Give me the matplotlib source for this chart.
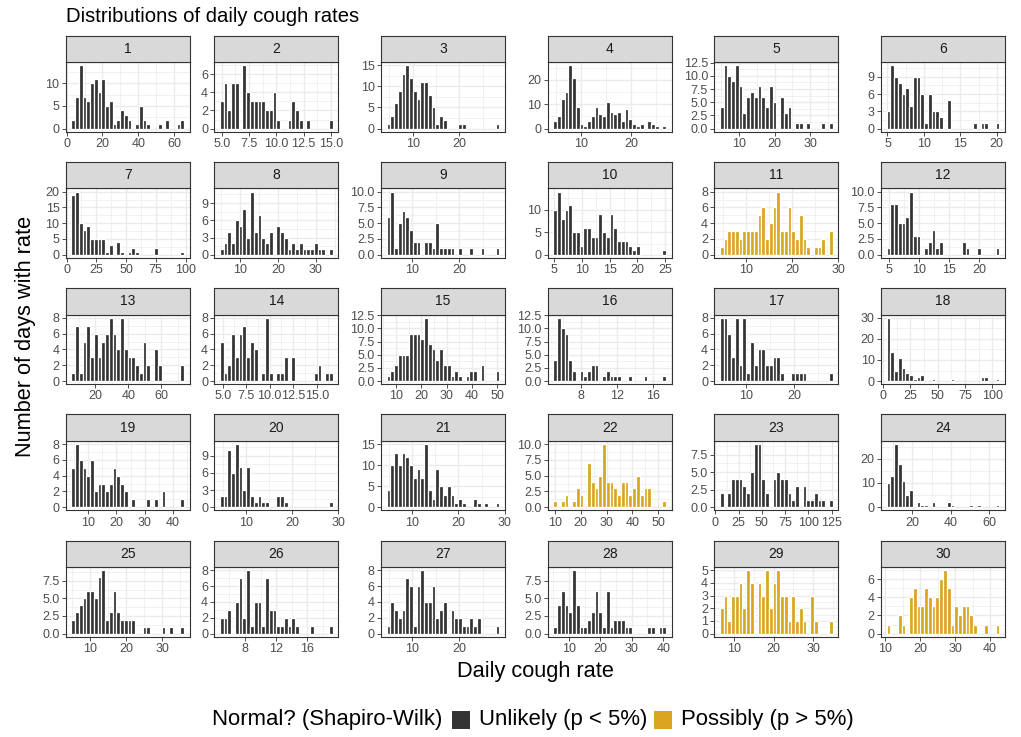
import matplotlib
matplotlib.use("Agg")
import matplotlib.pyplot as plt
import numpy as np
from matplotlib.patches import Rectangle

plt.rcParams['font.family'] = ['Liberation Sans', 'DejaVu Sans']

# --- data: 30 histogram bins per participant ---
participants = list(range(1, 31))
normal_possible = [11, 22, 29, 30]   # Shapiro-Wilk p > 5%

# centre of the first and last bin of each histogram
bin_first = [3.7, 5.0, 4.8, 4.93, 5.16, 5.14, 5.6, 5.1, 4.9, 5.24,
             4.75, 4.95, 6.8, 4.9, 7.0, 5.14, 4.97, 5.2, 4.7, 4.66,
             4.9, 10.1, 7.1, 7.5, 5.3, 5.03, 4.87, 5.7, 7.0, 11.0]
bin_last = [64.4, 15.0, 28.2, 26.6, 35.8, 20.1, 97.2, 34.0, 28.2, 24.8,
            28.4, 23.0, 72.6, 16.5, 50.1, 17.25, 27.6, 104.8, 43.3, 28.4,
            28.45, 52.3, 124.0, 64.3, 35.5, 19.0, 28.2, 40.3, 34.4, 42.1]

counts_01 = [2, 7, 14, 7, 6, 10, 11, 8, 11, 5, 6, 1, 2, 4, 3, 2, 0, 1, 5, 2, 1, 0, 0, 1, 0, 2, 0, 0, 1, 2]
counts_02 = [3, 5, 2, 5, 5, 0, 7, 4, 3, 3, 3, 3, 2, 2, 4, 1, 0, 0, 1, 3, 2, 1, 0, 1, 0, 0, 0, 0, 0, 1]
counts_03 = [1, 3, 6, 9, 13, 15, 12, 9, 7, 11, 11, 8, 5, 1, 3, 2, 0, 0, 0, 1, 1, 0, 0, 0, 0, 0, 0, 0, 0, 1]
counts_04 = [3, 5, 12, 15, 26, 21, 9, 2, 1, 3, 5, 9, 6, 5, 11, 7, 6, 7, 3, 8, 4, 2, 1, 2, 0, 3, 2, 1, 0, 1]
counts_05 = [4, 12, 10, 9, 12, 8, 3, 6, 7, 6, 8, 6, 4, 8, 5, 0, 6, 3, 4, 0, 1, 1, 0, 1, 0, 0, 0, 1, 0, 1]
counts_06 = [3, 11, 9, 8, 6, 7, 4, 9, 9, 6, 1, 6, 3, 3, 2, 0, 5, 0, 0, 0, 0, 0, 0, 1, 0, 1, 1, 0, 0, 1]
counts_07 = [19, 20, 10, 8, 9, 5, 5, 5, 5, 1, 3, 0, 4, 1, 0, 1, 2, 1, 0, 0, 0, 0, 2, 0, 0, 0, 0, 0, 0, 1]
counts_08 = [1, 2, 4, 2, 6, 5, 8, 3, 11, 4, 7, 3, 2, 4, 0, 5, 4, 3, 1, 2, 1, 2, 1, 1, 1, 2, 1, 1, 0, 1]
counts_09 = [6, 10, 1, 5, 7, 6, 4, 2, 2, 0, 2, 2, 1, 5, 1, 1, 1, 1, 0, 1, 0, 0, 1, 0, 0, 1, 0, 0, 0, 1]
counts_10 = [10, 14, 8, 10, 11, 5, 5, 2, 6, 6, 4, 4, 9, 5, 4, 9, 6, 3, 3, 3, 2, 1, 2, 0, 0, 0, 0, 0, 0, 1]
counts_11 = [1, 2, 3, 3, 3, 2, 3, 3, 3, 3, 5, 6, 2, 4, 6, 8, 3, 3, 6, 3, 2, 5, 2, 1, 0, 1, 1, 2, 0, 3]
counts_12 = [1, 8, 8, 5, 5, 6, 10, 3, 3, 0, 1, 2, 4, 1, 2, 0, 0, 0, 0, 0, 2, 1, 0, 0, 1, 0, 0, 0, 0, 1]
counts_13 = [1, 7, 1, 5, 7, 3, 6, 3, 5, 6, 8, 6, 4, 8, 4, 3, 3, 2, 1, 5, 2, 0, 4, 2, 0, 0, 0, 0, 0, 2]
counts_14 = [5, 1, 2, 6, 3, 6, 7, 3, 5, 4, 0, 1, 8, 1, 0, 1, 1, 3, 0, 3, 0, 0, 0, 0, 0, 1, 2, 0, 1, 1]
counts_15 = [1, 2, 3, 5, 5, 5, 9, 9, 9, 8, 12, 7, 6, 4, 6, 3, 3, 1, 2, 1, 0, 1, 2, 2, 0, 3, 0, 0, 0, 2]
counts_16 = [4, 12, 10, 9, 4, 2, 0, 2, 1, 2, 3, 3, 0, 1, 2, 1, 1, 1, 0, 0, 1, 0, 0, 0, 1, 0, 0, 0, 0, 1]
counts_17 = [8, 8, 6, 3, 8, 2, 8, 1, 5, 2, 4, 4, 2, 2, 3, 3, 1, 0, 0, 1, 1, 1, 1, 0, 0, 0, 0, 0, 0, 1]
counts_18 = [30, 14, 5, 11, 6, 4, 3, 1, 2, 3, 0, 0, 1, 0, 0, 0, 0, 1, 0, 0, 0, 0, 0, 0, 0, 2, 2, 0, 0, 1]
counts_19 = [5, 8, 6, 5, 4, 6, 2, 3, 3, 2, 3, 5, 4, 3, 2, 0, 1, 0, 0, 0, 1, 0, 1, 0, 2, 0, 0, 0, 0, 1]
counts_20 = [2, 2, 10, 6, 11, 7, 3, 7, 2, 1, 2, 1, 1, 0, 0, 2, 2, 1, 0, 0, 0, 0, 0, 0, 0, 0, 0, 0, 0, 1]
counts_21 = [4, 10, 13, 10, 13, 12, 10, 7, 9, 7, 15, 4, 2, 9, 5, 3, 5, 3, 1, 2, 1, 0, 0, 2, 1, 0, 1, 0, 0, 1]
counts_22 = [1, 0, 1, 2, 0, 1, 3, 2, 0, 7, 4, 3, 5, 10, 4, 4, 3, 2, 4, 4, 2, 3, 5, 2, 3, 3, 0, 0, 0, 1]
counts_23 = [2, 0, 2, 4, 4, 4, 3, 2, 5, 9, 9, 4, 2, 0, 4, 5, 4, 4, 2, 1, 3, 0, 3, 1, 1, 2, 1, 1, 0, 1]
counts_24 = [10, 13, 26, 18, 11, 5, 7, 0, 2, 1, 1, 0, 2, 0, 0, 0, 2, 1, 0, 0, 0, 0, 1, 0, 1, 0, 0, 0, 0, 1]
counts_25 = [2, 3, 4, 5, 6, 6, 5, 8, 9, 2, 3, 6, 3, 2, 2, 2, 2, 0, 0, 1, 1, 0, 0, 0, 1, 0, 1, 0, 0, 1]
counts_26 = [2, 2, 3, 0, 4, 7, 2, 8, 1, 4, 4, 1, 7, 3, 3, 1, 1, 2, 1, 2, 1, 0, 0, 0, 1, 0, 0, 0, 0, 1]
counts_27 = [1, 4, 3, 2, 3, 7, 6, 1, 6, 8, 4, 4, 6, 2, 3, 4, 0, 3, 2, 2, 1, 1, 2, 1, 2, 0, 0, 0, 0, 1]
counts_28 = [1, 4, 6, 4, 3, 9, 4, 1, 1, 2, 3, 6, 3, 1, 6, 1, 2, 2, 2, 1, 1, 0, 0, 0, 0, 1, 1, 0, 1, 1]
counts_29 = [2, 3, 1, 3, 3, 4, 2, 5, 4, 0, 4, 3, 5, 2, 4, 5, 3, 3, 1, 3, 1, 2, 1, 0, 3, 1, 0, 0, 0, 1]
counts_30 = [1, 0, 0, 2, 1, 0, 4, 5, 3, 3, 5, 4, 3, 4, 6, 7, 5, 1, 3, 2, 3, 3, 2, 1, 0, 0, 1, 0, 0, 1]

all_counts = [counts_01, counts_02, counts_03, counts_04, counts_05, counts_06,
              counts_07, counts_08, counts_09, counts_10, counts_11, counts_12,
              counts_13, counts_14, counts_15, counts_16, counts_17, counts_18,
              counts_19, counts_20, counts_21, counts_22, counts_23, counts_24,
              counts_25, counts_26, counts_27, counts_28, counts_29, counts_30]

# axis breaks shown on each panel
x_breaks = [[0, 20, 40, 60], [5, 7.5, 10, 12.5, 15], [10, 20], [10, 20], [10, 20, 30], [5, 10, 15, 20],
            [0, 25, 50, 75, 100], [10, 20, 30], [10, 20], [5, 10, 15, 20, 25], [10, 20, 30], [5, 10, 15, 20],
            [20, 40, 60], [5, 7.5, 10, 12.5, 15], [10, 20, 30, 40, 50], [8, 12, 16], [10, 20], [0, 25, 50, 75, 100],
            [10, 20, 30, 40], [10, 20, 30], [10, 20, 30], [10, 20, 30, 40, 50], [0, 25, 50, 75, 100, 125], [20, 40, 60],
            [10, 20, 30], [8, 12, 16], [10, 20], [10, 20, 30, 40], [10, 20, 30], [10, 20, 30, 40]]
y_breaks = [[0, 5, 10], [0, 2, 4, 6], [0, 5, 10, 15], [0, 10, 20], [0, 2.5, 5, 7.5, 10, 12.5], [0, 3, 6, 9],
            [0, 5, 10, 15, 20], [0, 3, 6, 9], [0, 2.5, 5, 7.5, 10], [0, 5, 10], [0, 2, 4, 6, 8], [0, 2.5, 5, 7.5, 10],
            [0, 2, 4, 6, 8], [0, 2, 4, 6, 8], [0, 2.5, 5, 7.5, 10, 12.5], [0, 2.5, 5, 7.5, 10, 12.5], [0, 2, 4, 6, 8], [0, 10, 20, 30],
            [0, 2, 4, 6, 8], [0, 3, 6, 9], [0, 5, 10, 15], [0, 2.5, 5, 7.5, 10], [0, 2.5, 5, 7.5], [0, 10, 20],
            [0, 2.5, 5, 7.5], [0, 2, 4, 6, 8], [0, 2, 4, 6, 8], [0, 2.5, 5, 7.5], [0, 1, 2, 3, 4, 5], [0, 2, 4, 6]]

unlikely_col = "#333333"
possibly_col = "#DAA520"
grid_col = "#EBEBEB"
frame_col = "#333333"

# --- layout in pixels ---
W, H = 1021, 737
col_left = [65.7, 214.3, 381.0, 547.7, 714.3, 881.0]
panel_w = 124.0
panel_h = 69.5
strip_h = 26.5
row_bottom = [131.7 + 126.25 * r for r in range(5)]


def box(x, y, w, h):
    # pixel box (top-left origin) -> figure fraction
    return [x / W, 1 - (y + h) / H, w / W, h / H]


def fmt(breaks):
    if any(float(b) != int(b) for b in breaks):
        return ["%.1f" % b for b in breaks]
    return ["%d" % b for b in breaks]


def minor_of(breaks):
    b = np.asarray(breaks, dtype=float)
    step = b[1] - b[0]
    ext = np.concatenate([[b[0] - step], b, [b[-1] + step]])
    return (ext[:-1] + ext[1:]) / 2


fig = plt.figure(figsize=(W / 100, H / 100), dpi=100)

for k, pid in enumerate(participants):
    r, c = divmod(k, 6)
    top = row_bottom[r] - panel_h
    ax = fig.add_axes(box(col_left[c], top, panel_w, panel_h))

    cnt = np.array(all_counts[k])
    centres = np.linspace(bin_first[k], bin_last[k], len(cnt))
    bw = centres[1] - centres[0]
    colour = possibly_col if pid in normal_possible else unlikely_col
    keep = cnt > 0
    ax.bar(centres[keep], cnt[keep], width=bw, color=colour,
           edgecolor="white", linewidth=0.9, zorder=3)

    lo, hi = centres[0] - bw / 2, centres[-1] + bw / 2
    pad = 0.05 * (hi - lo)
    ymax = cnt.max()

    ax.set_xticks(x_breaks[k])
    ax.set_xticklabels(fmt(x_breaks[k]))
    ax.set_yticks(y_breaks[k])
    ax.set_yticklabels(fmt(y_breaks[k]))
    ax.set_xticks(minor_of(x_breaks[k]), minor=True)
    ax.set_yticks(minor_of(y_breaks[k]), minor=True)
    ax.set_xlim(lo - pad, hi + pad)
    ax.set_ylim(-0.05 * ymax, 1.05 * ymax)

    ax.set_axisbelow(True)
    ax.grid(which="major", color=grid_col, linewidth=1.0)
    ax.grid(which="minor", color=grid_col, linewidth=0.5)
    ax.tick_params(which="major", labelsize=9, labelcolor="#4D4D4D",
                   color=frame_col, length=3, width=0.6, pad=1.5)
    ax.tick_params(which="minor", length=0)
    for s in ax.spines.values():
        s.set_color(frame_col)
        s.set_linewidth(0.8)

    # facet strip
    sax = fig.add_axes(box(col_left[c], top - strip_h, panel_w, strip_h))
    sax.set_facecolor("#D9D9D9")
    sax.set_xticks([])
    sax.set_yticks([])
    for s in sax.spines.values():
        s.set_color(frame_col)
        s.set_linewidth(0.8)
    sax.text(0.5, 0.5, str(pid), ha="center", va="center",
             fontsize=10, color="#1A1A1A", transform=sax.transAxes)

# titles
fig.text(66 / W, 1 - 16 / H, "Distributions of daily cough rates",
         ha="left", va="center", fontsize=14.6, color="black")
fig.text(25 / W, 1 - 336 / H, "Number of days with rate", rotation=90,
         ha="center", va="center", fontsize=15.7, color="black")
fig.text(535 / W, 1 - 672 / H, "Daily cough rate",
         ha="center", va="center", fontsize=15.7, color="black")

# legend
ly = 720
fig.text(212 / W, 1 - ly / H, "Normal? (Shapiro-Wilk)", ha="left", va="center", fontsize=15.9)
fig.patches.append(Rectangle((452 / W, 1 - (ly + 9) / H), 18 / W, 18 / H,
                             transform=fig.transFigure, facecolor=unlikely_col, edgecolor="none"))
fig.text(479 / W, 1 - ly / H, "Unlikely (p < 5%)", ha="left", va="center", fontsize=15.9)
fig.patches.append(Rectangle((654 / W, 1 - (ly + 9) / H), 18 / W, 18 / H,
                             transform=fig.transFigure, facecolor=possibly_col, edgecolor="none"))
fig.text(681 / W, 1 - ly / H, "Possibly (p > 5%)", ha="left", va="center", fontsize=15.9)

fig.savefig("out.png", dpi=100)
